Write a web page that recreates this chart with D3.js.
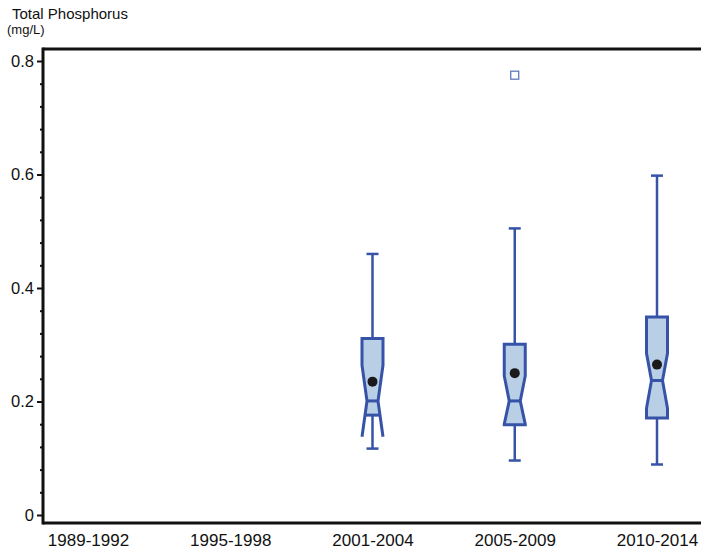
<!DOCTYPE html>
<html><head><meta charset="utf-8">
<script src="https://cdn.jsdelivr.net/npm/d3@7"></script>
<style>body{margin:0;background:#fff;} svg{display:block;font-family:"Liberation Sans",Arial,sans-serif;}</style>
</head><body>
<script>
const categories = ["1989-1992","1995-1998","2001-2004","2005-2009","2010-2014"];
// per category stats (null = no data)
const whiskerLow  = [null, null, 0.117, 0.096, 0.089];
const q1          = [null, null, 0.176, 0.159, 0.171];
const median      = [null, null, 0.201, 0.201, 0.237];
const q3          = [null, null, 0.311, 0.301, 0.349];
const whiskerHigh = [null, null, 0.460, 0.505, 0.598];
const notchLow    = [null, null, 0.138, 0.160, 0.188];
const notchHigh   = [null, null, 0.264, 0.245, 0.285];
const means       = [null, null, 0.235, 0.250, 0.265];
const outliers    = [[], [], [], [0.775], []];
const yTicks = [0, 0.2, 0.4, 0.6, 0.8];

(function(){
const W = 701, H = 557;
const FONT = "'Liberation Sans', Arial, sans-serif";
const svg = d3.select("body").append("svg").attr("width", W).attr("height", H);

const plotLeft = 43, plotTop = 49, plotBottom = 523;
const y = d3.scaleLinear().domain([0, 0.8]).range([515, 61]);
const x = d3.scalePoint().domain(categories).range([88, 657]);

const stroke = "#3653a8", fill = "#b9cfe6";
const boxW = 21, notchW = 11, capW = 12;

// frame
svg.append("line").attr("x1", plotLeft).attr("x2", W).attr("y1", plotTop).attr("y2", plotTop).attr("stroke", "#111").attr("stroke-width", 3);
svg.append("line").attr("x1", plotLeft).attr("x2", W).attr("y1", plotBottom).attr("y2", plotBottom).attr("stroke", "#111").attr("stroke-width", 3);
svg.append("line").attr("x1", plotLeft).attr("x2", plotLeft).attr("y1", plotTop - 1.5).attr("y2", plotBottom + 1.5).attr("stroke", "#111").attr("stroke-width", 3);

// y axis
const yAxis = d3.axisLeft(y).tickValues(yTicks).tickSize(6).tickPadding(3).tickFormat(d => d === 0 ? "0" : d3.format(".1f")(d));
const gy = svg.append("g").attr("transform", `translate(${plotLeft},0)`).call(yAxis);
gy.select(".domain").remove();
gy.selectAll(".tick line").attr("stroke", "#111").attr("stroke-width", 2);
gy.selectAll(".tick text").style("font", `16.5px ${FONT}`).attr("fill", "#111");
const minor = d3.range(0.04, 0.8, 0.04).filter(v => Math.abs(v / 0.2 - Math.round(v / 0.2)) > 1e-6);
const yMinor = d3.axisLeft(y).tickValues(minor).tickSize(3).tickFormat("");
const gm = svg.append("g").attr("transform", `translate(${plotLeft},0)`).call(yMinor);
gm.select(".domain").remove();
gm.selectAll(".tick line").attr("stroke", "#111").attr("stroke-width", 2);

// x axis labels
const xAxis = d3.axisBottom(x).tickSize(0).tickPadding(11);
const gx = svg.append("g").attr("transform", `translate(0,${plotBottom})`).call(xAxis);
gx.select(".domain").remove();
gx.selectAll(".tick text").style("font", `17px ${FONT}`).attr("fill", "#111");

// y title
svg.append("text").attr("x", 12).attr("y", 19).style("font", `15px ${FONT}`).attr("fill", "#111").text("Total Phosphorus");
svg.append("text").attr("x", 7).attr("y", 34).style("font", `13px ${FONT}`).attr("fill", "#111").text("(mg/L)");

// boxes
categories.forEach((c, i) => {
  if (q1[i] === null) return;
  const cx = x(c);
  const g = svg.append("g");
  const L = cx - boxW / 2, R = cx + boxW / 2, iL = cx - notchW / 2, iR = cx + notchW / 2;
  const yQ1 = y(q1[i]), yQ3 = y(q3[i]), yMed = y(median[i]), yNH = y(notchHigh[i]), yNL = y(notchLow[i]);
  g.append("line").attr("x1", cx).attr("x2", cx).attr("y1", y(whiskerHigh[i])).attr("y2", yQ3).attr("stroke", stroke).attr("stroke-width", 2.5);
  g.append("line").attr("x1", cx).attr("x2", cx).attr("y1", y(whiskerLow[i])).attr("y2", yQ1).attr("stroke", stroke).attr("stroke-width", 2.5);
  [whiskerHigh[i], whiskerLow[i]].forEach(v => {
    g.append("line").attr("x1", cx - capW / 2).attr("x2", cx + capW / 2).attr("y1", y(v)).attr("y2", y(v)).attr("stroke", stroke).attr("stroke-width", 2.5);
  });
  const interp = (yy) => {
    const t = (yy - yMed) / (yNL - yMed);
    return iL + (L - iL) * t;
  };
  let pts;
  if (yNL > yQ1) {
    const xl = interp(yQ1), xr = 2 * cx - xl;
    pts = [[L, yQ3], [R, yQ3], [R, yNH], [iR, yMed], [xr, yQ1], [xl, yQ1], [iL, yMed], [L, yNH]];
  } else {
    pts = [[L, yQ3], [R, yQ3], [R, yNH], [iR, yMed], [R, yNL], [R, yQ1], [L, yQ1], [L, yNL], [iL, yMed], [L, yNH]];
  }
  g.append("path").attr("d", d3.line()(pts) + "Z").attr("fill", fill).attr("stroke", "none");
  if (yNL > yQ1) {
    g.append("path").attr("d", d3.line()([[L, yNL], [iL, yMed], [L, yNH], [L, yQ3], [R, yQ3], [R, yNH], [iR, yMed], [R, yNL]]))
      .attr("fill", "none").attr("stroke", stroke).attr("stroke-width", 3).attr("stroke-linejoin", "miter");
    g.append("line").attr("x1", interp(yQ1)).attr("x2", 2 * cx - interp(yQ1)).attr("y1", yQ1).attr("y2", yQ1).attr("stroke", stroke).attr("stroke-width", 3);
  } else {
    g.append("path").attr("d", d3.line()(pts) + "Z")
      .attr("fill", "none").attr("stroke", stroke).attr("stroke-width", 3).attr("stroke-linejoin", "miter");
  }
  g.append("line").attr("x1", iL).attr("x2", iR).attr("y1", yMed).attr("y2", yMed).attr("stroke", stroke).attr("stroke-width", 3);
  g.append("circle").attr("cx", cx).attr("cy", y(means[i])).attr("r", 5).attr("fill", "#1a1a1a");
  outliers[i].forEach(v => {
    g.append("rect").attr("x", cx - 4).attr("y", y(v) - 4).attr("width", 8).attr("height", 8)
      .attr("fill", "none").attr("stroke", "#5470b8").attr("stroke-width", 1.2);
  });
});
})();
</script>
</body></html>
